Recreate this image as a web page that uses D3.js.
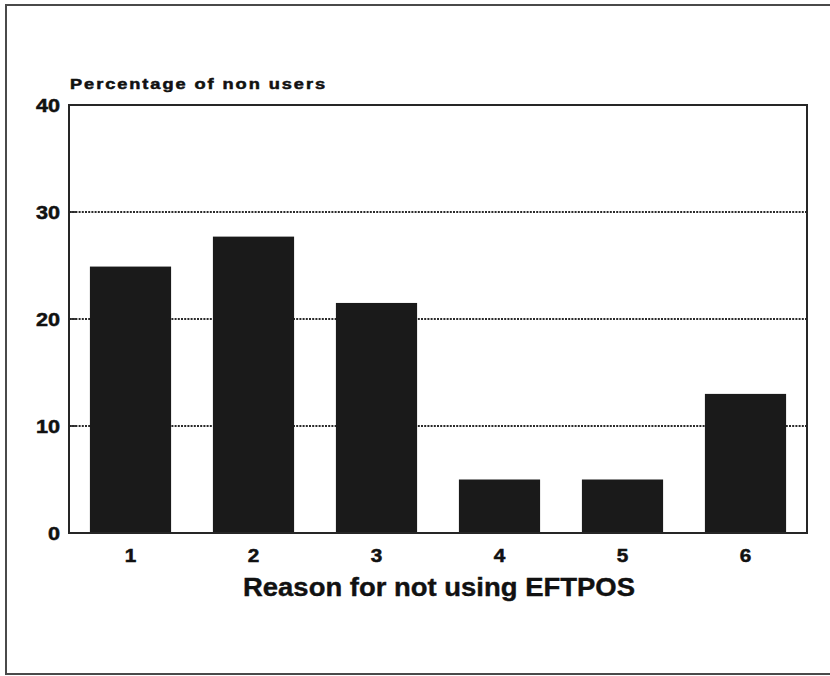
<!DOCTYPE html>
<html>
<head>
<meta charset="utf-8">
<script src="https://cdn.jsdelivr.net/npm/d3@7"></script>
<style>
  html, body { margin: 0; padding: 0; background: #fff; }
  svg { display: block; }
  text { font-family: "Liberation Sans", Arial, Helvetica, sans-serif; font-weight: bold; fill: #111; }
</style>
</head>
<body>
<script>
// ---- data ----
const categories = ["1", "2", "3", "4", "5", "6"];
const values = [24.9, 27.7, 21.5, 5.0, 5.0, 13.0];
const yTicks = [0, 10, 20, 30, 40];
const gridTicks = [10, 20, 30];
const yTitle = "Percentage of non users";
const xTitle = "Reason for not using EFTPOS";

const W = 830, H = 676;
const mLeft = 69, mRight = 807, mTop = 105, mBottom = 533;

const svg = d3.select("body").append("svg").attr("width", W).attr("height", H);
svg.append("rect").attr("width", W).attr("height", H).attr("fill", "#fff");

// outer frame
svg.append("rect")
  .attr("x", 6).attr("y", 5).attr("width", 830).attr("height", 669)
  .attr("fill", "none").attr("stroke", "#4a4a4a").attr("stroke-width", 2);

const x = d3.scaleBand().domain(categories).range([mLeft, mRight])
  .paddingInner(0.34).paddingOuter(0.17);
const y = d3.scaleLinear().domain([0, 40]).range([mBottom, mTop]);

// gridlines
svg.append("g").selectAll("line").data(gridTicks).join("line")
  .attr("x1", mLeft).attr("x2", mRight)
  .attr("y1", d => y(d)).attr("y2", d => y(d))
  .attr("stroke", "#2a2a2a").attr("stroke-width", 1.8)
  .attr("stroke-dasharray", "2,1.2");

// inner left ticks
svg.append("g").selectAll("line").data(gridTicks).join("line")
  .attr("x1", mLeft).attr("x2", mLeft + 7)
  .attr("y1", d => y(d)).attr("y2", d => y(d))
  .attr("stroke", "#2a2a2a").attr("stroke-width", 1.8);

// bars
svg.append("g").selectAll("rect").data(values).join("rect")
  .attr("x", (d, i) => x(categories[i]))
  .attr("width", x.bandwidth())
  .attr("y", d => y(d))
  .attr("height", d => y(0) - y(d))
  .attr("fill", "#1a1a1a");

// plot frame
svg.append("rect")
  .attr("x", mLeft).attr("y", mTop).attr("width", mRight - mLeft).attr("height", mBottom - mTop)
  .attr("fill", "none").attr("stroke", "#262626").attr("stroke-width", 2);

function widen(sel, k) {
  sel.each(function () {
    const len = this.getComputedTextLength();
    d3.select(this).attr("textLength", len * k).attr("lengthAdjust", "spacingAndGlyphs");
  });
}

// y axis labels
const yAxis = d3.axisLeft(y).tickValues(yTicks).tickSize(0).tickPadding(9).tickFormat(d3.format("d"));
const gy = svg.append("g").attr("transform", `translate(${mLeft},0)`).call(yAxis);
gy.select(".domain").remove();
gy.attr("font-family", null).attr("font-size", null);
gy.selectAll("text").attr("font-size", 18).attr("fill", "#111").attr("dy", "0.36em")
  .attr("stroke", "#111").attr("stroke-width", 0.5);
widen(gy.selectAll("text"), 1.2);

// x axis labels
const xAxis = d3.axisBottom(x).tickSize(0).tickPadding(0);
const gx = svg.append("g").attr("transform", `translate(0,${mBottom})`).call(xAxis);
gx.select(".domain").remove();
gx.attr("font-family", null).attr("font-size", null);
gx.selectAll("text").attr("font-size", 18).attr("fill", "#111").attr("y", 29).attr("dy", null)
  .attr("stroke", "#111").attr("stroke-width", 0.5);
widen(gx.selectAll("text"), 1.15);

// titles
svg.append("text").attr("x", 70).attr("y", 89).attr("font-size", 14)
  .style("letter-spacing", "1.5px")
  .attr("stroke", "#111").attr("stroke-width", 0.5)
  .attr("textLength", 257).attr("lengthAdjust", "spacingAndGlyphs").text(yTitle);
svg.append("text").attr("x", 243).attr("y", 596).attr("font-size", 26)
  .attr("stroke", "#111").attr("stroke-width", 0.4)
  .attr("textLength", 392).attr("lengthAdjust", "spacingAndGlyphs").text(xTitle);
</script>
</body>
</html>
